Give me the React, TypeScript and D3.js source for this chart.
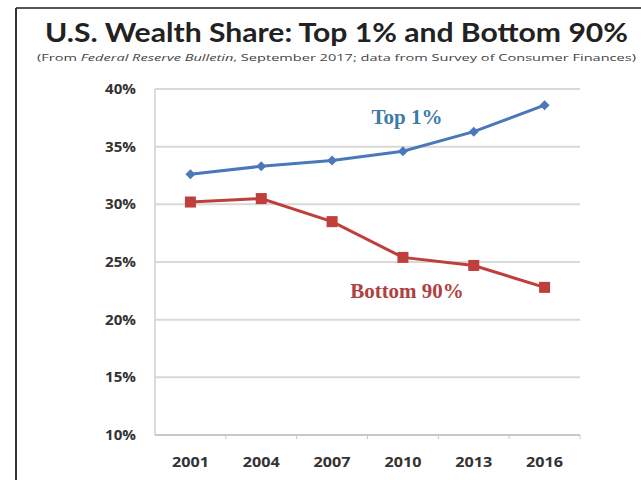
import React from "react";
import * as d3 from "d3";

const years = ["2001", "2004", "2007", "2010", "2013", "2016"];
const top1 = [32.6, 33.3, 33.8, 34.6, 36.3, 38.6];
const bottom90 = [30.2, 30.5, 28.5, 25.4, 24.7, 22.8];
const yTicks = [10, 15, 20, 25, 30, 35, 40];

const W = 641;
const H = 480;
const left = 155;
const right = 580;
const topY = 89;
const bottomY = 435;

export default function App() {
  const x = d3.scalePoint<string>().domain(years).range([left, right]).padding(0.5);
  const y = d3.scaleLinear().domain([10, 40]).range([bottomY, topY]);
  const line = d3
    .line<number>()
    .x((_, i) => x(years[i]) as number)
    .y((d) => y(d));
  const blue = "#4a78bb";
  const red = "#bf3f3c";
  const sans = "'Open Sans', 'DejaVu Sans', sans-serif";
  const titleFont = "Lato, 'Open Sans', sans-serif";
  const serif = "'Liberation Serif', 'DejaVu Serif', serif";

  return (
    <svg
      width={W}
      height={H}
      style={{ position: "fixed", left: 0, top: 0, background: "#fff" }}
    >
      <rect x={0} y={0} width={W} height={H} fill="#fff" />
      {/* frame */}
      <line x1={16} y1={8} x2={W} y2={8} stroke="#555" strokeWidth={1.8} />
      <line x1={16} y1={8} x2={16} y2={H} stroke="#333" strokeWidth={2} />

      <text
        x={45}
        y={42}
        fontFamily={titleFont}
        fontWeight={700}
        fontSize={27}
        fill="#222"
        textLength={583}
        lengthAdjust="spacingAndGlyphs"
      >
        U.S. Wealth Share: Top 1% and Bottom 90%
      </text>
      <text
        x={37}
        y={61}
        fontFamily={sans}
        fontSize={9}
        fill="#444"
        textLength={599}
        lengthAdjust="spacingAndGlyphs"
      >
        (From <tspan fontStyle="italic">Federal Reserve Bulletin</tspan>, September 2017; data from Survey of Consumer Finances)
      </text>

      {/* gridlines */}
      {yTicks.map((t) => (
        <g key={t}>
          <line
            x1={left}
            x2={right}
            y1={y(t)}
            y2={y(t)}
            stroke={t === 10 ? "#c8c8c8" : "#d9d9d9"}
            strokeWidth={2}
          />
          <text
            x={136}
            y={y(t) + 5}
            textAnchor="end"
            fontFamily={sans}
            fontWeight={700}
            fontSize={13.5}
            fill="#333"
            textLength={31}
            lengthAdjust="spacingAndGlyphs"
          >
            {t}%
          </text>
        </g>
      ))}
      <line x1={left} x2={left} y1={topY} y2={bottomY} stroke="#d0d0d0" strokeWidth={1.5} />
      {years.map((yr, i) => {
        const bx = left + ((right - left) / years.length) * (i + 1);
        return (
          <line key={"tk" + yr} x1={bx} x2={bx} y1={bottomY} y2={bottomY + 4} stroke="#c8c8c8" strokeWidth={1} />
        );
      })}
      {years.map((yr) => (
        <text
          key={yr}
          x={x(yr)}
          y={467}
          textAnchor="middle"
          fontFamily={sans}
          fontWeight={700}
          fontSize={13.5}
          fill="#333"
          textLength={37}
          lengthAdjust="spacingAndGlyphs"
        >
          {yr}
        </text>
      ))}

      {/* series */}
      <path d={line(top1) || ""} fill="none" stroke={blue} strokeWidth={3} />
      {top1.map((v, i) => {
        const cx = x(years[i]) as number;
        const cy = y(v);
        const s = 5;
        return (
          <path
            key={"t" + i}
            d={`M${cx},${cy - s}L${cx + s},${cy}L${cx},${cy + s}L${cx - s},${cy}Z`}
            fill={blue}
          />
        );
      })}
      <path d={line(bottom90) || ""} fill="none" stroke={red} strokeWidth={3} />
      {bottom90.map((v, i) => {
        const cx = x(years[i]) as number;
        const cy = y(v);
        return <rect key={"b" + i} x={cx - 5.5} y={cy - 5.5} width={11} height={11} fill={red} />;
      })}

      <text
        x={407}
        y={124}
        textAnchor="middle"
        fontFamily={serif}
        fontWeight={700}
        fontSize={21}
        fill="#3d7ba6"
      >
        Top 1%
      </text>
      <text
        x={407}
        y={298}
        textAnchor="middle"
        fontFamily={serif}
        fontWeight={700}
        fontSize={21}
        fill="#b0403f"
      >
        Bottom 90%
      </text>
    </svg>
  );
}
